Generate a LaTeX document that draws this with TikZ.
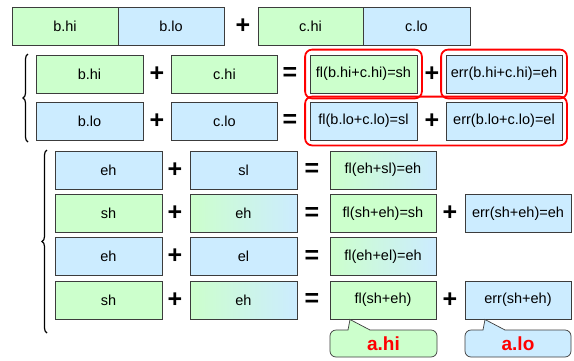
\documentclass[tikz,border=0pt]{standalone}
\usepackage{fontspec}
\setmainfont{Liberation Sans}[Ligatures=NoCommon]
\usetikzlibrary{fit,decorations.pathreplacing}
\definecolor{cgreen}{RGB}{204,255,204}
\definecolor{cblue}{RGB}{204,236,255}
\definecolor{cborder}{RGB}{60,60,60}
\begin{document}
\begin{tikzpicture}[x=1pt,y=-1pt,
  box/.style={draw=cborder, line width=0.8pt, minimum height=38pt, inner sep=0pt, font=\fontsize{14.5}{17}\selectfont},
  gbox/.style={box, fill=cgreen},
  bbox/.style={box, fill=cblue},
  gbbox/.style={box, left color=cgreen, right color=cblue},
  op/.style={font=\bfseries\fontsize{25}{25}\selectfont, inner sep=0pt},
  redbox/.style={draw=red, line width=1.8pt, rounded corners=7pt, inner xsep=4.5pt, inner ysep=5pt},
  bracestyle/.style={decorate, decoration={brace, amplitude=5pt}, line width=1.2pt},
  callout/.style={draw=cborder, line width=0.7pt},
  lbl/.style={text=red, font=\bfseries\fontsize{19}{20}\selectfont, inner sep=0pt}]
\useasboundingbox (0,0) rectangle (574,360);
% top row
\node[gbox, minimum width=106pt] (tbhi) at (65,26) {b.hi};
\node[bbox, minimum width=106pt] (tblo) at (171,26) {b.lo};
\node[op] (tplus) at (243,26) {+};
\node[gbox, minimum width=105pt] (tchi) at (310.5,26) {c.hi};
\node[bbox, minimum width=107pt] (tclo) at (416.5,26) {c.lo};
% row 2
\node[gbox, minimum width=107pt] (r2a) at (89.5,74) {b.hi};
\node[op] (r2p1) at (157,74) {+};
\node[gbox, minimum width=106pt] (r2b) at (224.5,74) {c.hi};
\node[op] (r2eq) at (290,74) {=};
\node[gbox, minimum width=107pt] (f1) at (363.5,74) {fl(b.hi+c.hi)=sh};
\node[op] (r2p2) at (432,74) {+};
\node[bbox, minimum width=116pt] (e1) at (504,74) {err(b.hi+c.hi)=eh};
% row 3
\node[bbox, minimum width=107pt] (r3a) at (89.5,121) {b.lo};
\node[op] (r3p1) at (157,121) {+};
\node[bbox, minimum width=106pt] (r3b) at (224.5,121) {c.lo};
\node[op] (r3eq) at (290,121) {=};
\node[bbox, minimum width=107pt] (f2) at (363.5,121) {fl(b.lo+c.lo)=sl};
\node[op] (r3p2) at (432,121) {+};
\node[bbox, minimum width=116pt] (e2) at (504,121) {err(b.lo+c.lo)=el};
% red outlines
\node[redbox, fit=(f1)] (rf1) {};
\node[redbox, fit=(e1)] (re1) {};
\node[redbox, fit=(f2)(e2)] (rf2) {};
% upper brace
\coordinate (ub1) at (28,142);
\coordinate (ub2) at (28,54);
\draw[bracestyle] (ub1) -- (ub2);
% lower rows
\node[bbox, minimum width=107pt] (a1) at (108.5,170) {eh};
\node[op] (ap1) at (175,170) {+};
\node[bbox, minimum width=107pt] (a2) at (243.5,170) {sl};
\node[op] (aeq) at (312,170) {=};
\node[gbbox, minimum width=106pt] (a3) at (383,170) {fl(eh+sl)=eh};

\node[gbox, minimum width=107pt] (b1) at (108.5,213.5) {sh};
\node[op] (bp1) at (175,213.5) {+};
\node[gbbox, minimum width=107pt] (b2) at (243.5,213.5) {eh};
\node[op] (beq) at (312,213.5) {=};
\node[gbox, minimum width=106pt] (b3) at (383,213.5) {fl(sh+eh)=sh};
\node[op] (bp2) at (450,213.5) {+};
\node[bbox, minimum width=106pt] (b4) at (518,213.5) {err(sh+eh)=eh};

\node[bbox, minimum width=107pt] (c1) at (108.5,256.5) {eh};
\node[op] (cp1) at (175,256.5) {+};
\node[bbox, minimum width=107pt] (c2) at (243.5,256.5) {el};
\node[op] (ceq) at (312,256.5) {=};
\node[gbbox, minimum width=106pt] (c3) at (383,256.5) {fl(eh+el)=eh};

\node[gbox, minimum width=107pt] (d1) at (108.5,300) {sh};
\node[op] (dp1) at (175,300) {+};
\node[gbbox, minimum width=107pt] (d2) at (243.5,300) {eh};
\node[op] (deq) at (312,300) {=};
\node[gbox, minimum width=106pt] (d3) at (383,300) {fl(sh+eh)};
\node[op] (dp2) at (450,300) {+};
\node[bbox, minimum width=106pt] (d4) at (518,300) {err(sh+eh)};
% lower brace
\coordinate (lb1) at (47,333);
\coordinate (lb2) at (47,150);
\draw[bracestyle] (lb1) -- (lb2);
% callouts
\coordinate (tipa) at (350,319.5);
\draw[callout, fill=cgreen] (336,330) -- (348,330) -- (tipa) -- (370,330) -- (431,330)
  to[out=0,in=90] (437,336) -- (437,351) to[out=-90,in=0] (431,357) -- (336,357)
  to[out=180,in=-90] (330,351) -- (330,336) to[out=90,in=180] cycle;
\node[lbl] (ahi) at (383.5,344) {a.hi};
\coordinate (tipb) at (485,319.5);
\draw[callout, fill=cblue] (471,330) -- (483,330) -- (tipb) -- (505,330) -- (565,330)
  to[out=0,in=90] (571,336) -- (571,351) to[out=-90,in=0] (565,357) -- (471,357)
  to[out=180,in=-90] (465,351) -- (465,336) to[out=90,in=180] cycle;
\node[lbl] (alo) at (518,344) {a.lo};
\end{tikzpicture}
\end{document}
